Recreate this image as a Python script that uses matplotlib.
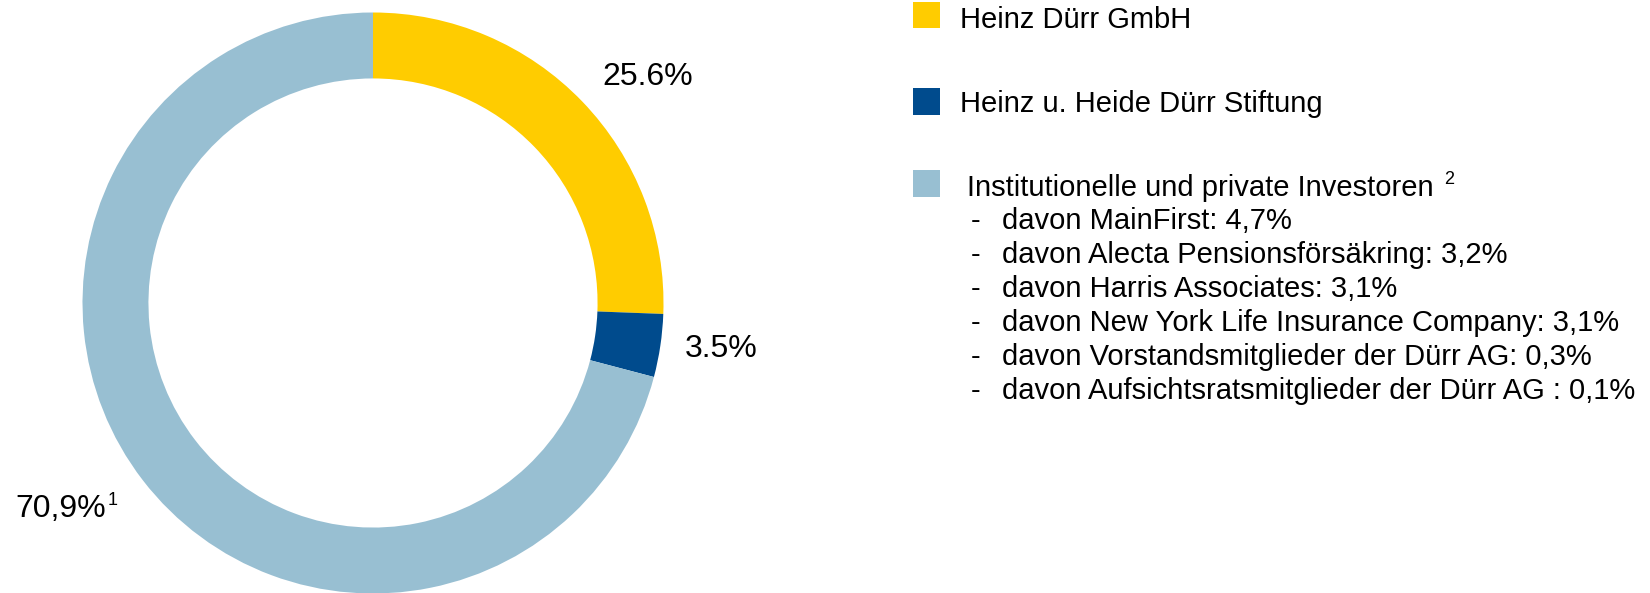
import matplotlib
matplotlib.use("Agg")
import matplotlib.pyplot as plt
from matplotlib.patches import Rectangle

plt.rcParams['font.family'] = ['Liberation Sans', 'DejaVu Sans']

# Daten
gruppen = ['Heinz Dürr GmbH', 'Heinz u. Heide Dürr Stiftung',
           'Institutionelle und private Investoren']
anteile = [25.6, 3.5, 70.9]
farben = ['#FFCC00', '#004B8D', '#98BFD2']
wert_labels = ['25.6%', '3.5%', '70,9%']
davon = ['davon MainFirst: 4,7%',
         'davon Alecta Pensionsförsäkring: 3,2%',
         'davon Harris Associates: 3,1%',
         'davon New York Life Insurance Company: 3,1%',
         'davon Vorstandsmitglieder der Dürr AG: 0,3%',
         'davon Aufsichtsratsmitglieder der Dürr AG : 0,1%']

W, H = 1650, 593
fig = plt.figure(figsize=(W / 100, H / 100), dpi=100)


def fx(x):
    return x / W


def fy(y):
    return 1 - y / H


# Ring
r_px = 290.5
cx, cy = 373, 303
ax = fig.add_axes([fx(cx - r_px), fy(cy + r_px), 2 * r_px / W, 2 * r_px / H])
ax.pie(anteile, colors=farben, startangle=90, counterclock=False,
       radius=1, wedgeprops=dict(width=0.227, linewidth=0))
ax.set_xlim(-1, 1)
ax.set_ylim(-1, 1)
ax.set_aspect('equal')
ax.axis('off')

# Beschriftungen (Position in Radius-Einheiten, Grundlinie)
lab_pos = [(0.946, 0.752), (1.198, -0.187), (-0.92, -0.736)]
lab_ha = ['center', 'center', 'right']
for (x, y), t, ha in zip(lab_pos, wert_labels, lab_ha):
    ax.text(x, y, t, ha=ha, va='baseline', fontsize=23, clip_on=False)
ax.text(-0.914, -0.696, '1', ha='left', va='baseline', fontsize=13,
        clip_on=False)

# Legende
sq = 26.5
box_y = [1.5, 88, 170]
text_y = [28, 112.5, 196]
text_x = [960, 960, 967]
for i in range(3):
    fig.patches.append(Rectangle((fx(913), fy(box_y[i] + sq)), sq / W, sq / H,
                                 transform=fig.transFigure, facecolor=farben[i],
                                 edgecolor='none'))
    fig.text(fx(text_x[i]), fy(text_y[i]), gruppen[i], ha='left',
             va='baseline', fontsize=21)
fig.text(fx(1444), fy(184), '2', ha='left', va='baseline', fontsize=13)

for k, t in enumerate(davon):
    y = 228.7 + k * 34.1
    fig.text(fx(971), fy(y), '-', ha='left', va='baseline', fontsize=21)
    fig.text(fx(1002), fy(y), t, ha='left', va='baseline', fontsize=21)

fig.savefig('out.png', dpi=100)
